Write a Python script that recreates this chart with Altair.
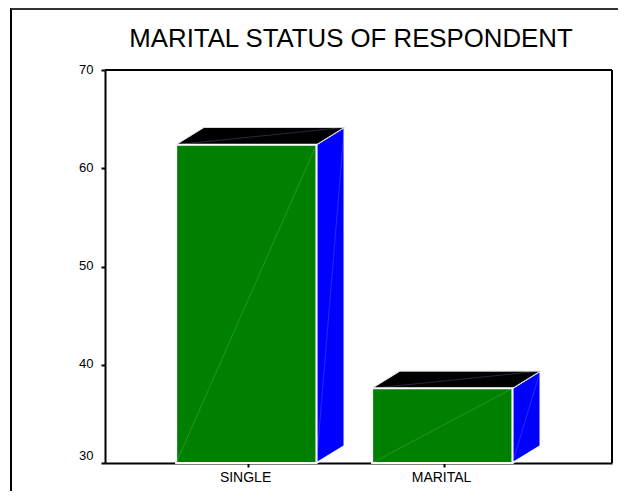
import altair as alt
import pandas as pd

title_text = "MARITAL STATUS OF RESPONDENT"
categories = ["SINGLE", "MARITAL"]
positions = [1, 2]
values = [62.4, 37.6]
y_ticks = [30, 40, 50, 60, 70]

BASE = 30
HALF = 0.358
SHIFT = -0.009
DX = 0.142
DY = 1.75
FONT = "Liberation Sans"

x_scale = alt.Scale(domain=[0.27, 2.857], nice=False, zero=False)
y_scale = alt.Scale(domain=[30, 70], nice=False, zero=False)
X = lambda f="x": alt.X(f"{f}:Q", scale=x_scale,
                        axis=alt.Axis(values=positions, title=None, grid=False,
                                      labelExpr=f"datum.value == 1 ? '{categories[0]}' : '{categories[1]}'",
                                      labelFont=FONT, labelFontSize=14, labelColor="#000",
                                      labelPadding=3, labelOffset=-3, tickSize=4, tickWidth=2, tickColor="#000",
                                      domainColor="#000", domainWidth=2))
Y = alt.Y("y:Q", scale=y_scale,
          axis=alt.Axis(values=y_ticks, title=None, grid=False, labelFont=FONT,
                        labelFontSize=13, labelColor="#000", labelPadding=8,
                        labelOffset=-1,
                        labelBaseline={"condition": {"test": "datum.value == 30", "value": "bottom"},
                                       "value": "middle"},
                        tickSize=4, tickWidth=2, tickColor="#000",
                        domainColor="#000", domainWidth=2))

front, side, top, diag_f, diag_o = [], [], [], [], []
for i, (p, v) in enumerate(zip(positions, values)):
    l, r = p + SHIFT - HALF, p + SHIFT + HALF
    front.append({"x": l, "x2": r, "y": BASE, "y2": v})
    side += [{"b": i, "x": r, "y": BASE, "y2": v},
             {"b": i, "x": r + DX, "y": BASE + DY, "y2": v + DY}]
    top += [{"b": i, "x": l, "y": v, "y2": v},
            {"b": i, "x": l + DX, "y": v, "y2": v + DY},
            {"b": i, "x": r, "y": v, "y2": v + DY},
            {"b": i, "x": r + DX, "y": v + DY, "y2": v + DY}]
    diag_f += [{"d": f"f{i}", "x": l, "y": BASE}, {"d": f"f{i}", "x": r, "y": v}]
    diag_o += [{"d": f"s{i}", "x": r, "y": BASE}, {"d": f"s{i}", "x": r + DX, "y": v + DY},
               {"d": f"t{i}", "x": l, "y": v}, {"d": f"t{i}", "x": r + DX, "y": v + DY}]

front_df, side_df, top_df = map(pd.DataFrame, (front, side, top))

front_layer = alt.Chart(front_df).mark_rect(color="#008000", stroke="white", strokeWidth=2).encode(
    x=X(), x2="x2:Q", y=Y, y2="y2:Q")
side_layer = alt.Chart(side_df).mark_area(color="#0000ff", stroke="white", strokeWidth=1.5, line=False).encode(
    x=X(), y=Y, y2="y2:Q", detail="b:N")
top_layer = alt.Chart(top_df).mark_area(color="#000000", stroke="#dddddd", strokeWidth=1, line=False).encode(
    x=X(), y=Y, y2="y2:Q", detail="b:N")
diag_front = alt.Chart(pd.DataFrame(diag_f)).mark_line(color="#8fbf8f", strokeWidth=0.4, opacity=0.7).encode(
    x=X(), y=Y, detail="d:N")
diag_other = alt.Chart(pd.DataFrame(diag_o)).mark_line(color="#aaaaff", strokeWidth=0.4, opacity=0.6).encode(
    x=X(), y=Y, detail="d:N")

right_axis = alt.Chart(pd.DataFrame({"x": [2.857], "y": [30], "y2": [70]})).mark_rule(
    color="#000", strokeWidth=2).encode(x=X(), y=Y, y2="y2:Q")
top_axis = alt.Chart(pd.DataFrame({"x": [0.27], "x2": [2.857], "y": [70]})).mark_rule(
    color="#000", strokeWidth=2).encode(x=X(), x2="x2:Q", y=Y)

k = pd.DataFrame({"k": [0]})
frame_left = alt.Chart(k).mark_rule(color="#000", strokeWidth=2, clip=False).encode(
    x=alt.value(-94), y=alt.value(-62), y2=alt.value(431))
frame_top = alt.Chart(k).mark_rule(color="#333", strokeWidth=2, clip=False).encode(
    x=alt.value(-94), x2=alt.value(520), y=alt.value(-61))
title_mark = alt.Chart(pd.DataFrame({"t": [title_text]})).mark_text(
    font=FONT, fontSize=25.8, color="#000", align="center", baseline="alphabetic", clip=False
).encode(x=alt.value(246), y=alt.value(-23), text="t:N")

chart = alt.layer(
    frame_left, frame_top, title_mark,
    side_layer, top_layer, front_layer, diag_front, diag_other, right_axis, top_axis
).properties(
    width=507, height=393,
    autosize=alt.AutoSizeParams(type="none"),
    padding={"left": 97, "top": 62, "right": 6, "bottom": 28},
).configure_view(stroke=None)

chart.save("out.html", embed_options={"renderer": "svg", "actions": False})
